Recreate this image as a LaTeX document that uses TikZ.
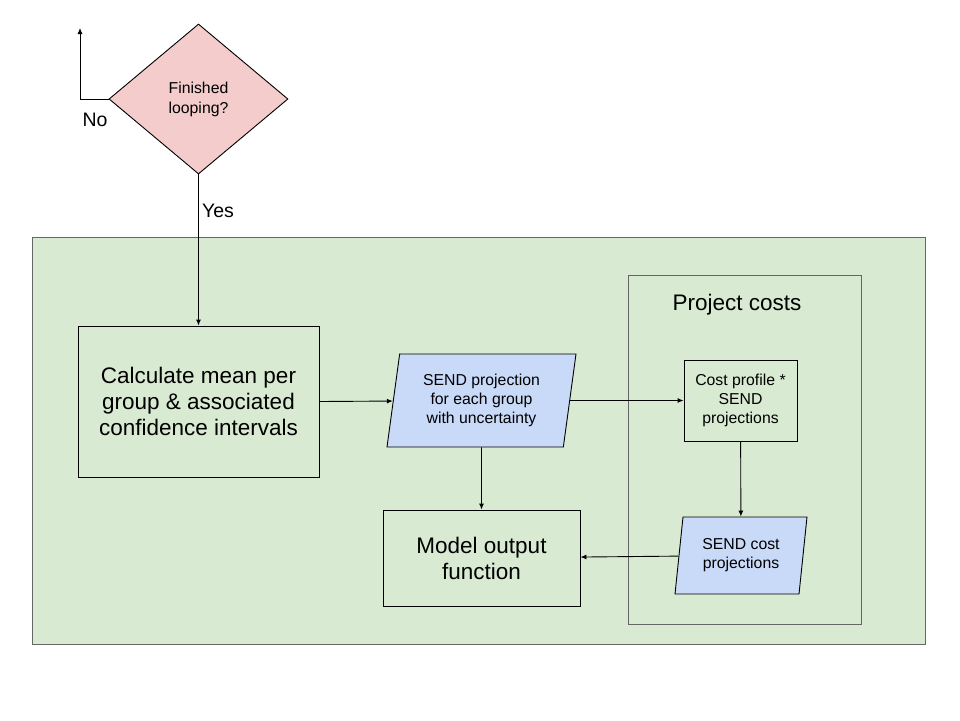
\documentclass[tikz,border=0pt]{standalone}
\usepackage{fontspec}
\setmainfont{Liberation Sans}
\usetikzlibrary{shapes.geometric,arrows.meta}
\definecolor{gfill}{HTML}{D9EAD3}
\definecolor{bfill}{HTML}{C9DAF8}
\definecolor{rfill}{HTML}{F4CCCC}
\definecolor{gline}{HTML}{666666}
\tikzset{
  boxn/.style={draw=black, line width=0.9pt, align=center, inner sep=0pt},
  bigtxt/.style={font=\fontsize{22.5}{26}\selectfont},
  smtxt/.style={font=\fontsize{15.8}{19}\selectfont},
  para/.style={draw=black, line width=0.9pt, fill=bfill, trapezium, trapezium left angle=76.5, trapezium right angle=103.5, trapezium stretches body, align=center, inner sep=0pt, smtxt},
  arr/.style={draw=black, line width=0.9pt, -{Latex[length=6pt,width=5pt]}},
  lbl/.style={font=\fontsize{19.5}{22}\selectfont, inner sep=0pt},
}
\begin{document}
\begin{tikzpicture}[x=1pt,y=-1pt]
\useasboundingbox (0,0) rectangle (960,720);
\fill[white] (0,0) rectangle (960,720);
% containers
\node[draw=gline, fill=gfill, line width=0.9pt, minimum width=893, minimum height=407, inner sep=0pt] (main) at (478.5,440.5) {};
\node[draw=gline, fill=gfill, line width=0.9pt, minimum width=233, minimum height=349, inner sep=0pt] (proj) at (744.5,449.5) {};
\node[font=\fontsize{22.5}{26}\selectfont, inner sep=0pt] (projt) at (737,304.5) {Project costs};
% decision
\node[draw=black, fill=rfill, line width=0.9pt, diamond, minimum width=179, minimum height=150, inner sep=0pt, aspect=1.19, align=center, font=\fontsize{15.8}{20}\selectfont] (dia) at (198.5,99) {Finished\\looping?};
% boxes
\node[boxn, bigtxt, minimum width=241, minimum height=151] (calc) at (198.5,401.5) {Calculate mean per\\group \& associated\\confidence intervals};
\node[para, minimum width=189, minimum height=93] (send) at (481.5,400.5) {SEND projection\\for each group\\with uncertainty};
\node[boxn, smtxt, minimum width=113, minimum height=81] (cost) at (740.5,400.5) {Cost profile *\\SEND\\projections};
\node[para, minimum width=132, minimum height=77] (sendcost) at (741,555.5) {SEND cost\\projections};
\node[boxn, bigtxt, minimum width=197, minimum height=96] (model) at (481.5,558) {Model output\\function};
% connectors
\coordinate (loopend) at (80,28);
\draw[arr] (dia.west) -| (loopend);
\node[lbl] (no) at (95,120) {No};
\draw[arr] (dia.south) -- (calc.north);
\node[lbl] (yes) at (218,211) {Yes};
\draw[arr] (calc.east) -- (send);
\draw[arr] (send) -- (cost);
\draw[arr] (cost) -- (sendcost);
\draw[arr] (sendcost) -- (model);
\draw[arr] (send.south) -- (model.north);
\end{tikzpicture}
\end{document}
